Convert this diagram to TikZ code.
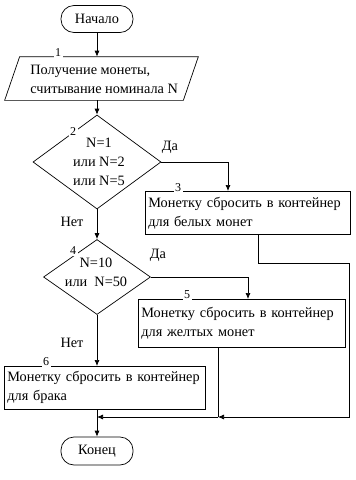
\documentclass[tikz,border=0pt]{standalone}
\usepackage{fontspec}
\setmainfont{Liberation Serif}
\usetikzlibrary{shapes.geometric, arrows.meta, positioning}

\begin{document}
\begin{tikzpicture}[x=1pt, y=-1pt, line width=0.7pt,
    font=\fontsize{14.3}{19}\selectfont,
    term/.style={draw, rounded corners=13pt, minimum width=72pt, minimum height=27pt, inner sep=0pt},
    io/.style={minimum width=178pt, minimum height=43pt, inner sep=0pt},
    cond/.style={draw, diamond, inner sep=0pt},
    plain/.style={align=left, inner sep=0pt},
    act/.style={draw, align=left, anchor=north west, inner xsep=3pt, inner ysep=0pt},
    num/.style={fill=white, inner sep=1.5pt, font=\fontsize{12}{13}\selectfont},
    arr/.style={-{Latex[length=6pt,width=5pt]}}]
  \fill[white] (0,0) rectangle (356,480);
  \useasboundingbox (0,0) rectangle (356,480);

  \node[term] (start) at (97,19) {Начало};
  \node[io] (in) at (101.5,78.5) {};
  \draw ([xshift=7.5pt]in.north west) -- ([xshift=7.5pt]in.north east)
    -- ([xshift=-7.5pt]in.south east) -- ([xshift=-7.5pt]in.south west) -- cycle;
  \node[plain, anchor=west] (int) at (30,79) {Получение монеты,\\считывание номинала N};
  \node[cond, minimum width=128pt, minimum height=94pt] (d1) at (97,162) {};
  \node[plain, align=center] (d1t) at (99,162) {N=1\\или N=2\\или N=5};
  \node[act, text width=199pt, minimum height=43pt] (w) at (145,191)
    {Монетку сбросить в контейнер\\для белых монет};
  \node[cond, minimum width=107pt, minimum height=75pt] (d2) at (97,277) {};
  \node[plain, align=center] (d2t) at (96,272) {N=10\\или~ N=50};
  \node[act, text width=201pt, minimum height=48pt] (y) at (138,299)
    {Монетку сбросить в контейнер\\для желтых монет};
  \node[act, text width=195pt, minimum height=43pt] (k) at (4,366)
    {Монетку сбросить в контейнер\\для брака};
  \node[term, minimum height=28pt] (stop) at (97,451) {Конец};

  \coordinate (m) at (97,417);
  \coordinate (my) at (218,417);
  \coordinate (bend) at (349,263);

  \draw[arr] (start.south) -- (start.south |- in.north);
  \draw[arr] (start.south |- in.south) -- (d1.north);
  \draw[arr] (d1.east) -| ([xshift=83pt]w.north west);
  \draw[arr] (d1.south) -- (d2.north);
  \draw[arr] (d2.east) -| ([xshift=110pt]y.north west);
  \draw[arr] (d2.south) -- (d2.south |- k.north);
  \draw[arr] ([xshift=113pt]w.south west) |- (bend) |- (my);
  \draw ([xshift=80pt]y.south west) -- (my);
  \draw[arr] (my) -- (m);
  \draw[arr] (k.south -| m) -- (stop.north);

  \node (yes1) at (170,147) {Да};
  \node (no1) at (72,222) {Нет};
  \node (yes2) at (158,255) {Да};
  \node (no2) at (72,343) {Нет};

  \node[num] (n1) at (58,53) {1};
  \node[num] (n2) at (73,132) {2};
  \node[num] (n3) at (178,188) {3};
  \node[num] (n4) at (73,251) {4};
  \node[num] (n5) at (187,295) {5};
  \node[num] (n6) at (46,362) {6};
\end{tikzpicture}
\end{document}
